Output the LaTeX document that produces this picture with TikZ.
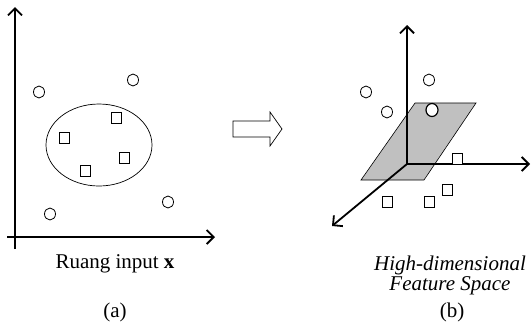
\documentclass[tikz,border=0pt]{standalone}
\usepackage{fontspec}
\setmainfont{Liberation Serif}
\usepackage{tikz}
\usetikzlibrary{arrows.meta, shapes.geometric}
\definecolor{bidang}{RGB}{192,192,192}

\begin{document}
\begin{tikzpicture}[x=1pt, y=-1pt,
          sumbu/.style={-{Straight Barb[length=7pt, width=14pt]}, line width=1.8pt},
          titik/.style={ellipse, draw, fill=white, line width=0.8pt, minimum width=11pt, minimum height=12pt, inner sep=0pt},
          kotak/.style={rectangle, draw, fill=white, line width=0.8pt, minimum width=10pt, minimum height=11pt, inner sep=0pt},
          teks/.style={inner sep=0pt, font=\fontsize{21}{20}\selectfont}
        ]
          \useasboundingbox (0,0) rectangle (532,325);

          \coordinate (ya0) at (15,249);
          \coordinate (ya) at (15,7);
          \coordinate (xa0) at (7,237);
          \coordinate (xa) at (215,237);
          \draw[sumbu] (ya0) -- (ya);
          \draw[sumbu] (xa0) -- (xa);

          \node[ellipse, draw, line width=0.7pt, minimum width=106pt, minimum height=82pt] (kelas) at (99,145) {};
          \node[titik] (a1) at (39,92) {};
          \node[titik] (a2) at (133,80) {};
          \node[titik] (a3) at (50,214) {};
          \node[titik] (a4) at (168,202) {};
          \node[kotak] (k1) at (64,138) {};
          \node[kotak] (k2) at (116,118) {};
          \node[kotak] (k3) at (124,158) {};
          \node[kotak] (k4) at (85,171) {};

          \draw[line width=0.7pt] (233,121) -- (270,121) -- (270,112) -- (282,129) -- (270,146) -- (270,137) -- (233,137) -- cycle;

          \filldraw[fill=bidang, line width=0.6pt] (415,103) -- (476,103) -- (424,180) -- (361,180) -- cycle;
          \coordinate (o) at (407,164);
          \coordinate (yb) at (407,25);
          \coordinate (xb) at (530,164);
          \coordinate (zb) at (332,226);
          \draw[sumbu] (o) -- (yb);
          \draw[sumbu] (o) -- (xb);
          \draw[sumbu] (o) -- (zb);

          \node[titik] (b1) at (366,92) {};
          \node[titik] (b2) at (429,80) {};
          \node[titik] (b3) at (387,112) {};
          \node[titik, line width=1.2pt, minimum width=12pt, minimum height=13pt] (b4) at (432,110) {};
          \node[kotak] (m1) at (457,159) {};
          \node[kotak] (m2) at (447,190) {};
          \node[kotak] (m3) at (429,202) {};
          \node[kotak] (m4) at (387,202) {};

          \node[teks, anchor=base] (ruang) at (115,268) {Ruang input \textbf{x}};
          \node[teks, anchor=base] (capa) at (115,317) {(a)};
          \node[teks, align=center, font=\fontsize{21}{20}\selectfont\itshape] (fitur) at (450,275) {High-dimensional\\Feature Space};
          \node[teks, anchor=base] (capb) at (452,317) {(b)};
        \end{tikzpicture}
\end{document}
